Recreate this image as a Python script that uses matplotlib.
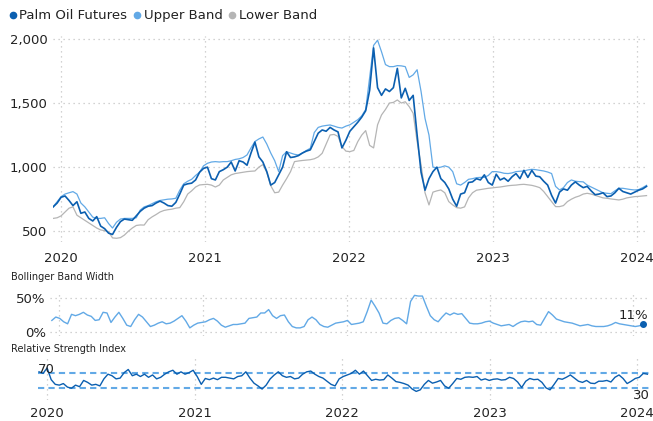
import pandas as pd
import numpy as np
import matplotlib
matplotlib.use("Agg")
import matplotlib.pyplot as plt
import matplotlib.dates as mdates
from matplotlib.lines import Line2D
from matplotlib.ticker import FuncFormatter

plt.rcParams['font.family'] = ['DejaVu Sans']

DARK_BLUE = "#0b5fb0"
LIGHT_BLUE = "#62a9e6"
GREY = "#b5b5b5"
TEXT = "#222222"
GRID = "#c4c4c4"

# dates: roughly every 10 days, mid Dec 2019 .. late Jan 2024
dates = pd.date_range("2019-12-13", "2024-01-26", periods=151)

price = [
    690, 720, 765, 775, 740, 700, 730, 640, 650, 600,
    580, 614, 540, 520, 485, 475, 530, 575, 595, 590,
    585, 620, 655, 680, 695, 700, 720, 735, 720, 700,
    695, 725, 790, 860, 870, 875, 900, 960, 990, 1000,
    910, 900, 965, 980, 1000, 1040, 970, 1050, 1040, 1015,
    1110, 1195, 1080, 1040, 965, 860, 880, 940, 1000, 1120,
    1075, 1080, 1090, 1110, 1125, 1135, 1200, 1265, 1290, 1280,
    1310, 1290, 1275, 1150, 1210, 1280, 1315, 1350, 1390, 1440,
    1600, 1930, 1620, 1560, 1610, 1590, 1620, 1770, 1540, 1615,
    1520, 1560, 1250, 960, 820, 910, 965, 1000, 910, 880,
    830, 750, 695, 790, 800, 880, 885, 910, 900, 940,
    880, 860, 945, 900, 915, 890, 925, 950, 910, 975,
    920, 975, 930, 925, 890, 860, 780, 720, 805, 830,
    820, 860, 885, 860, 840, 850, 815, 785, 790, 800,
    770, 775, 800, 835, 810, 800, 790, 805, 820, 830,
    850,
]

upper_band = [
    692, 730, 770, 790, 800, 809, 790, 720, 690, 650,
    610, 600, 600, 605, 560, 525, 570, 595, 600, 600,
    600, 605, 665, 690, 700, 715, 730, 740, 745, 750,
    752, 757, 820, 870, 890, 905, 935, 960, 1010, 1030,
    1040, 1043, 1040, 1043, 1043, 1050, 1060, 1065, 1075, 1095,
    1150, 1200, 1220, 1235, 1180, 1110, 1050, 965, 1090, 1120,
    1110, 1100, 1095, 1110, 1130, 1147, 1270, 1310, 1320, 1325,
    1329, 1320, 1310, 1305, 1320, 1330, 1350, 1370, 1400, 1450,
    1700, 1950, 1990, 1900, 1800, 1784, 1784, 1792, 1790, 1784,
    1700, 1720, 1760, 1590, 1380, 1250, 1000, 995, 1000, 1010,
    1000, 965, 870, 860, 880, 905, 910, 918, 920, 920,
    935, 965, 965, 960, 952, 950, 955, 965, 968, 970,
    978, 983, 980, 975, 970, 962, 950, 850, 822, 840,
    880, 900, 890, 887, 885, 860, 845, 830, 815, 800,
    796, 793, 815, 835, 835, 830, 825, 822, 825, 840,
    858,
]

lower_band = [
    600, 605, 620, 650, 680, 690, 625, 605, 585, 565,
    545, 525, 510, 505, 495, 448, 445, 450, 470, 500,
    525, 545, 549, 548, 590, 612, 630, 650, 662, 668,
    672, 680, 684, 730, 790, 815, 845, 861, 864, 866,
    860, 845, 860, 900, 920, 940, 950, 955, 960, 965,
    968, 970, 1000, 1020, 960, 855, 800, 805, 860, 910,
    965, 1043, 1048, 1052, 1055, 1058, 1065, 1080, 1108, 1180,
    1251, 1255, 1240, 1160, 1125, 1121, 1130, 1199, 1250, 1285,
    1170, 1150, 1330, 1407, 1450, 1500, 1505, 1524, 1500, 1510,
    1472, 1420, 1200, 1017, 800, 705, 805, 815, 822, 800,
    731, 705, 684, 680, 690, 760, 800, 820, 825, 830,
    835, 838, 842, 845, 850, 855, 858, 860, 864, 866,
    862, 858, 850, 840, 810, 770, 731, 692, 692, 700,
    731, 750, 765, 775, 790, 796, 790, 780, 770, 760,
    757, 752, 748, 744, 750, 760, 765, 770, 772, 775,
    778,
]

band_width = [
    17, 22, 20, 15, 12, 26, 24, 26, 29, 25,
    23, 17, 18, 29, 28, 14, 22, 29, 20, 10,
    8, 18, 26, 22, 15, 8, 10, 13, 15, 12,
    13, 16, 20, 24, 16, 6, 10, 13, 14, 15,
    18, 20, 16, 10, 7, 9, 11, 11, 12, 13,
    20, 21, 22, 28, 28, 33, 24, 20, 24, 25,
    15, 8, 6, 6, 8, 18, 22, 18, 11, 8,
    7, 10, 13, 14, 15, 17, 11, 12, 13, 15,
    30, 47, 38, 28, 13, 12, 17, 20, 21, 17,
    12, 45, 54, 53, 53, 38, 24, 18, 15, 22,
    28, 25, 28, 26, 27, 20, 13, 12, 12, 13,
    15, 16, 13, 11, 9, 10, 11, 8, 12, 15,
    16, 15, 16, 11, 10, 20, 30, 25, 19, 17,
    15, 14, 13, 11, 9, 10, 11, 9, 8, 8,
    8, 9, 11, 14, 12, 11, 10, 9, 8, 9,
    11,
]

rsi = [
    72, 68, 82, 52, 40, 38, 42, 33, 30, 38,
    34, 50, 45, 38, 40, 36, 54, 66, 62, 54,
    56, 70, 78, 62, 66, 60, 66, 58, 64, 54,
    58, 66, 72, 76, 66, 72, 66, 70, 76, 60,
    40, 55, 52, 56, 52, 58, 58, 56, 54, 60,
    62, 72, 56, 43, 36, 28, 38, 54, 64, 72,
    62, 58, 60, 54, 56, 66, 72, 74, 66, 60,
    56, 48, 40, 36, 54, 60, 64, 68, 76, 66,
    74, 62, 50, 53, 51, 52, 64, 56, 47, 45,
    42, 38, 28, 22, 26, 40, 50, 43, 46, 50,
    36, 30, 42, 55, 53, 58, 59, 58, 60, 51,
    54, 50, 53, 54, 51, 52, 58, 55, 46, 32,
    48, 55, 52, 53, 45, 31, 26, 40, 55, 53,
    58, 64, 56, 48, 45, 50, 43, 42, 48, 48,
    50, 46, 58, 64, 55, 42, 48, 55, 58, 68,
    66,
]

years = pd.to_datetime(["2020-01-01", "2021-01-01", "2022-01-01", "2023-01-01", "2024-01-01"])
y0 = pd.Timestamp("2020-01-01")
y4 = pd.Timestamp("2024-01-01")

W, H = 653, 421
fig = plt.figure(figsize=(W / 100, H / 100), dpi=100)


def frac(left, right, top, bottom):
    return [left / W, 1 - bottom / H, (right - left) / W, (bottom - top) / H]


def style(ax):
    for s in ax.spines.values():
        s.set_visible(False)
    ax.tick_params(length=0, colors=TEXT, labelsize=9.5)
    ax.set_xticks(years)
    ax.xaxis.set_major_formatter(mdates.DateFormatter("%Y"))
    ax.grid(True, axis="x", linestyle=(0, (1, 3)), color=GRID, linewidth=0.9)


# price panel
ax1 = fig.add_axes(frac(53, 648, 36, 242))
style(ax1)
ax1.plot(dates, lower_band, color=GREY, lw=0.9)
ax1.plot(dates, upper_band, color=LIGHT_BLUE, lw=0.9)
ax1.plot(dates, price, color=DARK_BLUE, lw=1.2)
ax1.set_xlim(y0 - pd.Timedelta(days=19.5), y4 + pd.Timedelta(days=28.7))
ax1.set_ylim(416, 2023)
ax1.set_yticks([500, 1000, 1500, 2000])
ax1.yaxis.set_major_formatter(FuncFormatter(lambda v, p: f"{v:,.0f}"))
ax1.grid(True, axis="y", linestyle=(0, (1, 3)), color=GRID, linewidth=0.9)
ax1.tick_params(axis="x", pad=7)
ax1.tick_params(axis="y", pad=4)

# bollinger band width panel
ax2 = fig.add_axes(frac(50, 650, 293, 336))
style(ax2)
ax2.plot(dates, band_width, color=LIGHT_BLUE, lw=1.0)
ax2.plot(dates[-1], band_width[-1], "o", color=DARK_BLUE, ms=4)
ax2.annotate(f"{band_width[-1]}%", (dates[-1], band_width[-1]), textcoords="offset points",
             xytext=(4, 2), ha="right", va="bottom", fontsize=9.5, color=TEXT)
ax2.set_xlim(y0 - pd.Timedelta(days=23.7), y4 + pd.Timedelta(days=42.5))
ax2.set_ylim(-6, 57.5)
ax2.set_yticks([0, 50])
ax2.yaxis.set_major_formatter(FuncFormatter(lambda v, p: f"{v:.0f}%"))
ax2.grid(True, axis="y", linestyle=(0, (1, 3)), color=GRID, linewidth=0.9)
ax2.tick_params(axis="x", labelbottom=False)
ax2.tick_params(axis="y", pad=3)
fig.text(11 / W, 1 - 277 / H, "Bollinger Band Width", fontsize=7, color=TEXT, va="center")

# RSI panel
ax3 = fig.add_axes(frac(38, 650, 355, 400))
style(ax3)
ax3.axhline(70, color=LIGHT_BLUE, lw=1.5, ls=(0, (3, 2)))
ax3.axhline(30, color=LIGHT_BLUE, lw=1.5, ls=(0, (3, 2)))
ax3.plot(dates, rsi, color=DARK_BLUE, lw=1.0)
ax3.set_xlim(y0 - pd.Timedelta(days=21.5), y4 + pd.Timedelta(days=31.4))
ax3.set_ylim(0, 115)
ax3.set_yticks([])
ax3.tick_params(axis="x", pad=5)
xl, xr = ax3.get_xlim()
ax3.text(xl + 0.3, 70, "70", ha="left", va="baseline", fontsize=9.5, color=TEXT)
ax3.text(xr, 29, "30", ha="right", va="top", fontsize=9.5, color=TEXT)
fig.text(11 / W, 1 - 349 / H, "Relative Strength Index", fontsize=7, color=TEXT, va="center")

# legend
handles = [Line2D([], [], marker="o", ls="", color=c, ms=4.5) for c in (DARK_BLUE, LIGHT_BLUE, GREY)]
fig.legend(handles, ["Palm Oil Futures", "Upper Band", "Lower Band"], loc="upper left",
           bbox_to_anchor=(0.0, 1.0), ncol=3, frameon=False, fontsize=9.5,
           handlelength=0.5, handletextpad=0.25, columnspacing=0.5, borderaxespad=0.3,
           labelcolor=TEXT)

fig.savefig("out.png", dpi=100)
